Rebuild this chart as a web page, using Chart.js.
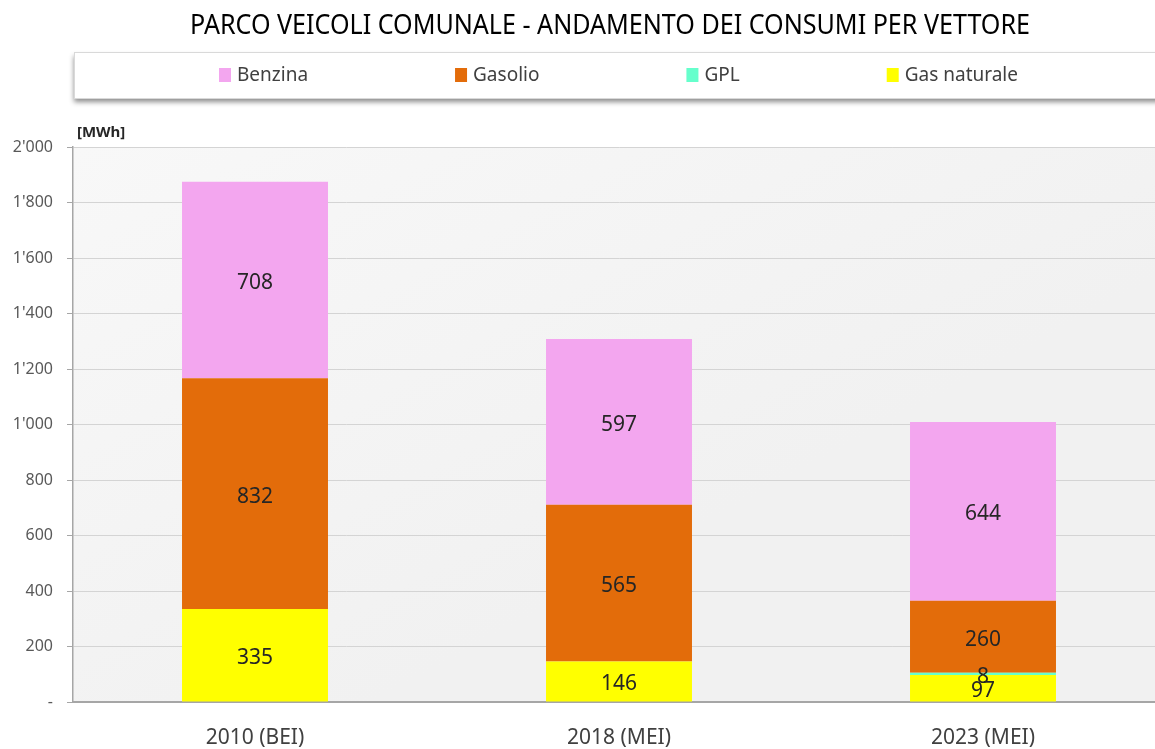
<!DOCTYPE html>
<html>
<head>
<meta charset="utf-8">
<script src="https://cdn.jsdelivr.net/npm/chart.js@4/dist/chart.umd.min.js"></script>
<style>
  html, body { margin: 0; padding: 0; background: #ffffff; overflow: hidden; }
  #wrap { width: 1155px; height: 749px; overflow: hidden; position: relative; }
  #c { position: absolute; left: 0; top: 0; }
</style>
</head>
<body>
<div id="wrap"><canvas id="c" width="1220" height="749"></canvas></div>
<script>
// ---- data ----
const categories = ['2010 (BEI)', '2018 (MEI)', '2023 (MEI)'];
const gasNaturale = [335, 146, 97];
const gpl = [0, 0, 8];
const gasolio = [832, 565, 260];
const benzina = [708, 597, 644];
const yTicks = [0, 200, 400, 600, 800, 1000, 1200, 1400, 1600, 1800, 2000];
const legendOrder = ['Benzina', 'Gasolio', 'GPL', 'Gas naturale'];
const titleText = 'PARCO VEICOLI COMUNALE - ANDAMENTO DEI CONSUMI PER VETTORE';
const unitText = '[MWh]';

const colors = {
  'Benzina': '#f3a6ef',
  'Gasolio': '#e36c0a',
  'GPL': '#66ffcc',
  'Gas naturale': '#ffff00'
};

function fmt(v) {
  if (v === 0) return '-';
  const s = String(Math.round(v));
  return s.replace(/\B(?=(\d{3})+(?!\d))/g, "'");
}

const bgPlugin = {
  id: 'bg',
  beforeDraw(chart) {
    const { ctx, chartArea: a } = chart;
    ctx.save();
    const g = ctx.createLinearGradient(a.left, a.top, a.left + 300, a.bottom);
    g.addColorStop(0, '#f8f8f8');
    g.addColorStop(1, '#f1f1f1');
    ctx.fillStyle = g;
    ctx.fillRect(a.left, a.top, a.right - a.left, a.bottom - a.top);
    ctx.restore();
  }
};

const decoPlugin = {
  id: 'deco',
  afterDraw(chart) {
    const ctx = chart.ctx;
    ctx.save();
    // title (condensed)
    ctx.font = '27px "Noto Sans"';
    ctx.fillStyle = '#000000';
    ctx.textBaseline = 'alphabetic';
    const tw = ctx.measureText(titleText).width;
    const target = 840;
    ctx.translate(610 - target / 2, 34);
    ctx.scale(target / tw, 1);
    ctx.fillText(titleText, 0, 0);
    ctx.restore();

    // legend box
    ctx.save();
    ctx.shadowColor = 'rgba(0,0,0,0.45)';
    ctx.shadowBlur = 5;
    ctx.shadowOffsetY = 4;
    ctx.fillStyle = '#ffffff';
    ctx.fillRect(74, 52, 1200, 46);
    ctx.restore();
    ctx.save();
    ctx.strokeStyle = '#d9d9d9';
    ctx.lineWidth = 1;
    ctx.strokeRect(74.5, 52.5, 1200, 46);
    ctx.font = '19px "Noto Sans"';
    ctx.textBaseline = 'middle';
    let x = 219;
    legendOrder.forEach(name => {
      const ds = chart.data.datasets.find(d => d.label === name);
      ctx.fillStyle = ds.backgroundColor;
      ctx.fillRect(x, 68, 12, 14);
      ctx.fillStyle = '#404040';
      ctx.fillText(name, x + 18, 76);
      x += 18 + ctx.measureText(name).width + 147;
    });
    ctx.restore();

    // unit label
    ctx.save();
    ctx.font = 'bold 15px "Noto Sans"';
    ctx.fillStyle = '#262626';
    ctx.textBaseline = 'middle';
    ctx.fillText(unitText, 77, 133);
    ctx.restore();

    // data labels
    ctx.save();
    ctx.font = '21px "Noto Sans"';
    ctx.fillStyle = '#262626';
    ctx.textAlign = 'center';
    ctx.textBaseline = 'middle';
    chart.data.datasets.forEach((ds, i) => {
      const meta = chart.getDatasetMeta(i);
      meta.data.forEach((bar, j) => {
        const v = ds.data[j];
        if (!v) return;
        ctx.fillText(fmt(v), bar.x, (bar.y + bar.base) / 2 + 3);
      });
    });
    ctx.restore();
  }
};

new Chart(document.getElementById('c'), {
  type: 'bar',
  data: {
    labels: categories,
    datasets: [
      { label: 'Gas naturale', data: gasNaturale, backgroundColor: colors['Gas naturale'] },
      { label: 'GPL', data: gpl, backgroundColor: colors['GPL'] },
      { label: 'Gasolio', data: gasolio, backgroundColor: colors['Gasolio'] },
      { label: 'Benzina', data: benzina, backgroundColor: colors['Benzina'] }
    ].map(d => Object.assign(d, { categoryPercentage: 0.401, barPercentage: 1.0, borderWidth: 0 }))
  },
  options: {
    responsive: false,
    animation: false,
    devicePixelRatio: 1,
    layout: { padding: { left: 0, right: 55, top: 147, bottom: 0 } },
    plugins: {
      legend: { display: false },
      title: { display: false },
      tooltip: { enabled: false }
    },
    scales: {
      x: {
        stacked: true,
        grid: { display: false, drawTicks: false },
        border: { display: true, color: '#a6a6a6', width: 2 },
        ticks: { color: '#404040', font: { family: 'Noto Sans', size: 21 }, padding: 23 },
        afterFit(s) { s.height = 47; }
      },
      y: {
        stacked: true,
        min: 0,
        max: 2000,
        afterBuildTicks(s) { s.ticks = yTicks.map(v => ({ value: v })); },
        grid: { color: '#d4d4d4', lineWidth: 1, tickLength: 6, tickColor: '#a6a6a6', drawTicks: true },
        border: { display: true, color: '#a6a6a6', width: 1.5 },
        ticks: { color: '#595959', font: { family: 'Noto Sans', size: 16 }, padding: 14, callback: v => fmt(v) },
        afterFit(s) { s.width = 73; }
      }
    }
  },
  plugins: [bgPlugin, decoPlugin]
});
</script>
</body>
</html>
